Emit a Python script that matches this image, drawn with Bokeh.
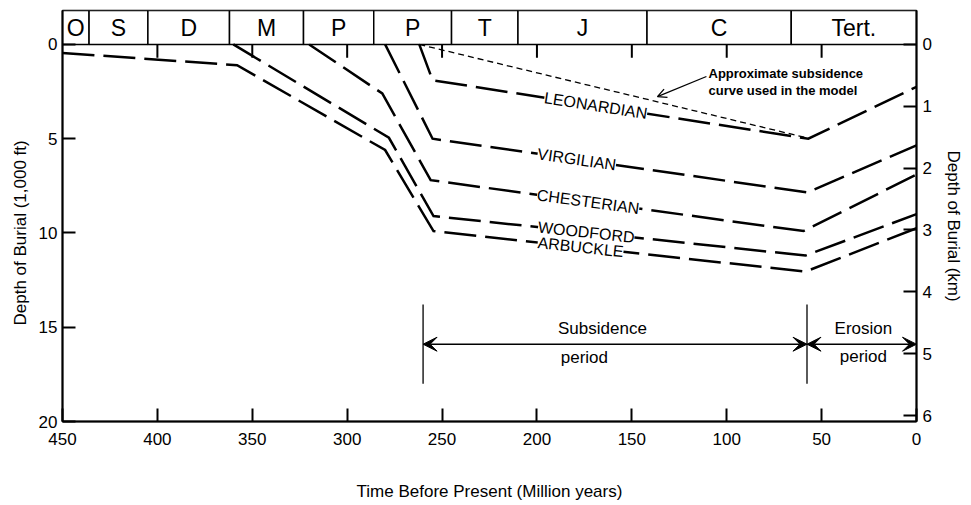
import numpy as np
from bokeh.plotting import figure
from bokeh.models import Range1d, LinearAxis, FixedTicker, Label, Arrow, OpenHead, VeeHead, Title
from bokeh.embed import file_html
from bokeh.resources import INLINE
from bokeh.core.properties import value

FONT = "Liberation Sans"

# ---------------- data ----------------
period_labels = ["O", "S", "D", "M", "P", "P", "T", "J", "C", "Tert."]
period_bounds = [450, 436, 405, 362, 323, 286, 245, 210, 142, 66, 0]

time_ticks = [450, 400, 350, 300, 250, 200, 150, 100, 50, 0]
top_ticks = [400, 350, 300, 250, 200, 150, 100, 50]
depth_ticks_kft = [0, 5, 10, 15, 20]
depth_ticks_km = [0, 1, 2, 3, 4, 5, 6]

horizon_names = ["LEONARDIAN", "VIRGILIAN", "CHESTERIAN", "WOODFORD", "ARBUCKLE"]
leonardian_age = [262, 255, 57, 0]
leonardian_depth = [0.0, 1.9, 5.0, 2.25]
virgilian_age = [280, 255, 57.5, 0]
virgilian_depth = [0.0, 5.0, 7.85, 5.35]
chesterian_age = [320, 281.5, 256, 59.5, 0]
chesterian_depth = [0.0, 2.6, 7.2, 9.9, 6.9]
woodford_age = [360, 278, 254.5, 58.5, 0]
woodford_depth = [0.0, 4.95, 9.1, 11.2, 9.0]
arbuckle_age = [450, 358, 280, 254.5, 58.5, 0]
arbuckle_depth = [0.45, 1.1, 5.6, 9.9, 12.05, 9.75]
label_ages = [169, 179, 173, 174, 177]

model_age = [262, 58]
model_depth = [0.0, 4.95]

subsidence_period = [260, 57.7]
erosion_period = [57.7, 0]
period_marker_depth = [13.8, 18.0]
period_arrow_depth = 15.9

# ---------------- layout ----------------
X0, X1 = 450, 0
Y_BOT, Y_TOP = 20, -1.80
KFT_PER_KM = 3.28084
W, H = 971, 505
ML, MR, MT, MB = 62, 55, 10, 84
FW = W - ML - MR
FH = H - MT - MB
PX_MA = FW / (X0 - X1)
PX_KFT = FH / (Y_BOT - Y_TOP)

p = figure(width=W, height=H, x_range=Range1d(X0, X1), y_range=Range1d(Y_BOT, Y_TOP),
           output_backend="svg", toolbar_location=None,
           min_border_left=ML, min_border_right=MR, min_border_top=MT, min_border_bottom=MB)
p.xgrid.visible = False
p.ygrid.visible = False
p.outline_line_color = "black"
p.outline_line_width = 1.5
p.background_fill_color = "white"
p.border_fill_color = "white"

p.extra_y_ranges = {"km": Range1d(Y_BOT / KFT_PER_KM, Y_TOP / KFT_PER_KM)}
ax_r = LinearAxis(y_range_name="km")
p.add_layout(ax_r, "right")

p.xaxis.ticker = FixedTicker(ticks=time_ticks)
p.xaxis.axis_label = "Time Before Present (Million years)"
p.yaxis[0].ticker = FixedTicker(ticks=depth_ticks_kft)
ax_r.ticker = FixedTicker(ticks=depth_ticks_km)

for ax in p.axis:
    ax.axis_line_width = 2
    ax.axis_line_color = "black"
    ax.major_tick_in = 13
    ax.major_tick_out = 0
    ax.major_tick_line_width = 2
    ax.minor_tick_line_color = None
    ax.major_label_text_font = FONT
    ax.major_label_text_font_size = "17px"
    ax.major_label_text_color = "black"
    ax.axis_label_text_font = FONT
    ax.axis_label_text_font_size = "17px"
    ax.axis_label_text_font_style = "normal"
    ax.axis_label_text_color = "black"

p.xaxis.major_label_standoff = 11
p.xaxis.axis_label_standoff = 34
p.yaxis[0].major_label_standoff = 5
ax_r.major_label_standoff = 6

# vertical axis titles as side titles, centred on the depth scale below the period bar
p.add_layout(Title(text="Depth of Burial (1,000 ft)", align="left", offset=96,
                   vertical_align="middle", standoff=10, text_font=FONT,
                   text_font_size="17px", text_font_style="normal", text_color="black"), "left")
p.add_layout(Title(text="Depth of Burial (km)", align="left", offset=140,
                   vertical_align="top", standoff=14, text_font=FONT,
                   text_font_size="17px", text_font_style="normal", text_color="black"), "right")

# period bar
p.quad(left=period_bounds[:-1], right=period_bounds[1:], top=Y_TOP, bottom=0,
       fill_color="white", line_color="black", line_width=1.5)
centers = [(a + b) / 2 for a, b in zip(period_bounds[:-1], period_bounds[1:])]
p.text(x=centers, y=[-0.86] * len(centers), text=period_labels, text_font=value(FONT),
       text_font_size="23px", text_align="center", text_baseline="middle", text_color="black")
# inner top ticks
p.segment(x0=top_ticks, y0=[0] * len(top_ticks), x1=top_ticks, y1=[0.7] * len(top_ticks),
          line_color="black", line_width=2)

# model curve
p.line(model_age, model_depth, line_color="black", line_width=1.3, line_dash="6 4")

# horizons
curves = [(leonardian_age, leonardian_depth), (virgilian_age, virgilian_depth),
          (chesterian_age, chesterian_depth), (woodford_age, woodford_depth),
          (arbuckle_age, arbuckle_depth)]
for (ages, depths) in curves:
    p.line(ages, depths, line_color="black", line_width=2.5, line_dash="32 9", line_cap="butt",
           line_join="miter")

for name, (ages, depths), la in zip(horizon_names, curves, label_ages):
    a = np.array(ages, float)
    d = np.array(depths, float)
    y = float(np.interp(la, a[::-1], d[::-1]))
    i = max(k for k in range(len(a) - 1) if a[k] >= la)
    dx = (a[i] - a[i + 1]) * PX_MA
    dy = (d[i + 1] - d[i]) * PX_KFT
    ang = -np.arctan2(dy, dx)
    p.add_layout(Label(x=la, y=y, text=name, angle=ang, text_font=FONT, text_font_size="16px",
                       text_align="center", text_baseline="middle", text_color="black",
                       background_fill_color="white", background_fill_alpha=1.0))

# note with arrow
p.add_layout(Arrow(end=OpenHead(size=9, line_width=1.3, line_color="black"),
                   x_start=110.7, y_start=1.7, x_end=136.5, y_end=2.77,
                   line_color="black", line_width=1.3))
p.add_layout(Label(x=109.6, y=1.54, text="Approximate subsidence", text_font=FONT,
                   text_font_size="13px", text_font_style="bold", text_baseline="middle",
                   text_align="left", text_color="black"))
p.add_layout(Label(x=109.6, y=2.45, text="curve used in the model", text_font=FONT,
                   text_font_size="13px", text_font_style="bold", text_baseline="middle",
                   text_align="left", text_color="black"))

# subsidence / erosion periods
for t in subsidence_period:
    p.segment(x0=[t], y0=[period_marker_depth[0]], x1=[t], y1=[period_marker_depth[1]],
              line_color="black", line_width=1.3)
for (a0, a1) in [subsidence_period, erosion_period]:
    p.add_layout(Arrow(start=VeeHead(size=14, fill_color="black", line_color="black"),
                       end=VeeHead(size=14, fill_color="black", line_color="black"),
                       x_start=a0, y_start=period_arrow_depth, x_end=a1, y_end=period_arrow_depth,
                       line_color="black", line_width=1.5))
for txt, x, y in [("Subsidence", 165.5, 15.05), ("period", 175, 16.6),
                  ("Erosion", 28, 15.05), ("period", 28, 16.55)]:
    p.add_layout(Label(x=x, y=y, text=txt, text_font=FONT, text_font_size="17px",
                       text_align="center", text_baseline="middle", text_color="black"))

open("out.html", "w").write(file_html(p, INLINE))
